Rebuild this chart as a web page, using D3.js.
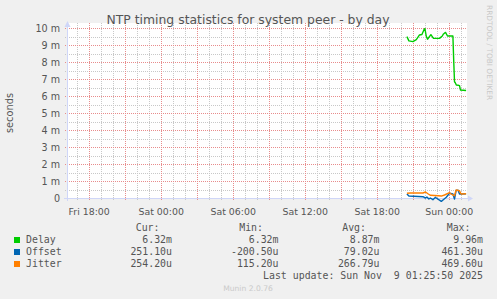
<!DOCTYPE html>
<html><head><meta charset="utf-8">
<script src="https://cdn.jsdelivr.net/npm/d3@7/dist/d3.min.js"></script>
<style>
html,body{margin:0;padding:0;background:#f0f0f0;}
svg{display:block;}
</style></head><body>
<svg id="c" width="497" height="299"></svg>
<script>
// ---------- data ----------
const title = "NTP timing statistics for system peer - by day";
const yLabel = "seconds";
const yTickValues = [0, 1, 2, 3, 4, 5, 6, 7, 8, 9, 10];           // milliseconds
const yTickLabels = ["0", "1 m", "2 m", "3 m", "4 m", "5 m", "6 m", "7 m", "8 m", "9 m", "10 m"];
const xTickHours = [-30, -24, -18, -12, -6, 0];                     // hours relative to Sun 00:00
const xTickLabels = ["Fri 18:00", "Sat 00:00", "Sat 06:00", "Sat 12:00", "Sat 18:00", "Sun 00:00"];

// minutes relative to Sun 00:00, values in ms
const delayMinutes = [-209, -199, -179, -162, -146, -134, -122, -119, -112, -106, -89, -76, -46, -32, -26, -16, -6, 21, 25, 29, 33, 38, 49, 54, 59, 87];
const delayValues  = [9.49, 9.24, 9.20, 9.32, 9.59, 9.62, 9.94, 9.96, 9.51, 9.34, 9.61, 9.39, 9.39, 9.53, 9.65, 9.74, 9.53, 9.53, 8.10, 6.84, 6.78, 6.65, 6.63, 6.61, 6.35, 6.32];
// values in µs
const offsetMinutes = [-209, -199, -129, -116, -109, -99, -92, -79, -66, -62, -37, -27, -12, 4, 21, 29, 37, 47, 54, 62, 87];
const offsetValues  = [235, 118, 76, 0, 60, -59, 0, -100, 41, 0, -200, -100, 41, 276, 235, -59, 440, 461, 235, 235, 251];
const jitterMinutes = [-209, -192, -129, -116, -102, -91, -52, -37, -21, 4, 12, 29, 37, 54, 62, 87];
const jitterValues  = [276, 294, 294, 353, 235, 159, 135, 115, 176, 312, 235, 130, 470, 430, 235, 254];

const seriesNames  = ["Delay", "Offset", "Jitter"];
const seriesColors = ["#00cc00", "#0066b3", "#ff8000"];
const legendHeaders = ["Cur:", "Min:", "Avg:", "Max:"];
const curValues = ["6.32m", "251.10u", "254.20u"];
const minValues = ["6.32m", "-200.50u", "115.20u"];
const avgValues = ["8.87m", "79.02u", "266.79u"];
const maxValues = ["9.96m", "461.30u", "469.60u"];
const lastUpdate = "Last update: Sun Nov  9 01:25:50 2025";
const footer = "Munin 2.0.76";
const sideText = "RRDTOOL / TOBI OETIKER";

// ---------- layout ----------
const svg = d3.select("#c");
const X0 = 67, X1 = 467, Y0 = 198, Y1 = 23;
const pxPerHour = 12, sunX = 448.7;
const x = d3.scaleLinear()
  .domain([(X0 - sunX) / pxPerHour * 60, (X1 - sunX) / pxPerHour * 60])  // minutes
  .range([X0, X1]);
const y = d3.scaleLinear().domain([0, (Y0 - Y1) / 17]).range([Y0, Y1]);

const textCol = "#555";
const sans = "'DejaVu Sans', sans-serif";
const mono = "'DejaVu Sans Mono', monospace";

// canvas
svg.append("rect").attr("x", X0).attr("y", Y1).attr("width", X1 - X0).attr("height", Y0 - Y1).attr("fill", "#fff");

// grid
const g = svg.append("g");
const minorH = d3.range(0.5, 10.3, 1);
const minorV = d3.range(-31, 2).filter(h => h % 3 !== 0);
const majorV = d3.range(-30, 2, 3);
const minorCol = "#c8c8c8", majorCol = "#e88c8c";
g.selectAll(".mh").data(minorH).join("line")
  .attr("x1", X0 - 2).attr("x2", X1).attr("y1", d => Math.round(y(d)) + 0.5).attr("y2", d => Math.round(y(d)) + 0.5)
  .attr("stroke", minorCol).attr("stroke-dasharray", "1,1");
g.selectAll(".mv").data(minorV).join("line")
  .attr("x1", d => Math.round(x(d * 60)) + 0.5).attr("x2", d => Math.round(x(d * 60)) + 0.5)
  .attr("y1", Y1).attr("y2", Y0 + 2)
  .attr("stroke", minorCol).attr("stroke-dasharray", "1,1");
g.selectAll(".Mh").data(yTickValues).join("line")
  .attr("x1", X0 - 2).attr("x2", X1).attr("y1", d => Math.round(y(d)) + 0.5).attr("y2", d => Math.round(y(d)) + 0.5)
  .attr("stroke", majorCol).attr("stroke-dasharray", "1,1");
g.selectAll(".Mv").data(majorV).join("line")
  .attr("x1", d => Math.round(x(d * 60)) + 0.5).attr("x2", d => Math.round(x(d * 60)) + 0.5)
  .attr("y1", Y1).attr("y2", Y0 + 3)
  .attr("stroke", majorCol).attr("stroke-dasharray", "1,1");

// axes (labels via d3 axis)
const yAxis = d3.axisLeft(y).tickValues(yTickValues).tickFormat((d, i) => yTickLabels[i]).tickSize(0).tickPadding(7);
const ya = svg.append("g").attr("transform", `translate(${X0},0)`).call(yAxis);
ya.select(".domain").remove();
ya.selectAll("text").attr("font-family", sans).attr("font-size", 9.6).attr("fill", textCol);

const xAxis = d3.axisBottom(x).tickValues(xTickHours.map(h => h * 60)).tickFormat((d, i) => xTickLabels[i]).tickSize(0).tickPadding(10);
const xa = svg.append("g").attr("transform", `translate(0,${Y0})`).call(xAxis);
xa.select(".domain").remove();
xa.selectAll("text").attr("font-family", sans).attr("font-size", 9.4).attr("fill", textCol);

// axis lines + arrows
const axCol = "#cfd6f8";
svg.append("line").attr("x1", X0 - 3).attr("x2", X1 + 2).attr("y1", Y0 + 0.5).attr("y2", Y0 + 0.5).attr("stroke", axCol);
svg.append("line").attr("x1", X0 + 0.5).attr("x2", X0 + 0.5).attr("y1", Y0 + 3).attr("y2", Y1 - 1).attr("stroke", axCol);
svg.append("path").attr("d", `M${X1 + 1},${Y0 - 2.5}L${X1 + 6},${Y0 + 0.5}L${X1 + 1},${Y0 + 3.5}Z`).attr("fill", axCol);
svg.append("path").attr("d", `M${X0 - 2.5},${Y1 + 4}L${X0 + 0.5},${Y1 - 2}L${X0 + 3.5},${Y1 + 4}Z`).attr("fill", axCol);

// series
const line = d3.line().x(d => x(d[0])).y(d => y(d[1]));
const delayPts  = delayMinutes.map((t, i) => [t, delayValues[i]]);
const offsetPts = offsetMinutes.map((t, i) => [t, offsetValues[i] / 1000]);
const jitterPts = jitterMinutes.map((t, i) => [t, jitterValues[i] / 1000]);
[[delayPts, 0], [offsetPts, 1], [jitterPts, 2]].forEach(([pts, i]) => {
  svg.append("path").attr("d", line(pts)).attr("fill", "none")
    .attr("stroke", seriesColors[i]).attr("stroke-width", 1.4).attr("stroke-linejoin", "round");
});

// title & labels
svg.append("text").attr("x", 248).attr("y", 24).attr("text-anchor", "middle")
  .attr("font-family", sans).attr("font-size", 12.4).attr("fill", textCol).text(title);
svg.append("text").attr("transform", "translate(13,113) rotate(-90)").attr("text-anchor", "middle")
  .attr("font-family", sans).attr("font-size", 9.8).attr("fill", textCol).text(yLabel);
svg.append("text").attr("transform", "translate(486.5,5) rotate(90)").attr("text-anchor", "start")
  .attr("font-family", sans).attr("font-size", 7.4).attr("fill", "#c8c8c8").text(sideText);

// legend
const lf = 9.9;
const nb = s => s.replace(/ /g, "\u00a0");
const headerX = [159.5, 263, 366, 470.5];
const valueX  = [172, 278.5, 379.5, 483];
const lg = svg.append("g").attr("font-family", mono).attr("font-size", lf).attr("fill", textCol);
legendHeaders.forEach((h, i) => lg.append("text").attr("x", headerX[i]).attr("y", 231).attr("text-anchor", "end").text(h));
const cols = [curValues, minValues, avgValues, maxValues];
seriesNames.forEach((n, r) => {
  const by = 243 + r * 12;
  svg.append("rect").attr("x", 14).attr("y", by - 6).attr("width", 6).attr("height", 6).attr("fill", seriesColors[r]);
  lg.append("text").attr("x", 26).attr("y", by).text(n);
  cols.forEach((c, j) => lg.append("text").attr("x", valueX[j]).attr("y", by).attr("text-anchor", "end").text(c[r]));
});
lg.append("text").attr("x", 483).attr("y", 279).attr("text-anchor", "end").text(nb(lastUpdate));
svg.append("text").attr("x", 248).attr("y", 291).attr("text-anchor", "middle")
  .attr("font-family", sans).attr("font-size", 7.6).attr("fill", "#cacaca").text(footer);
</script>
</body></html>
